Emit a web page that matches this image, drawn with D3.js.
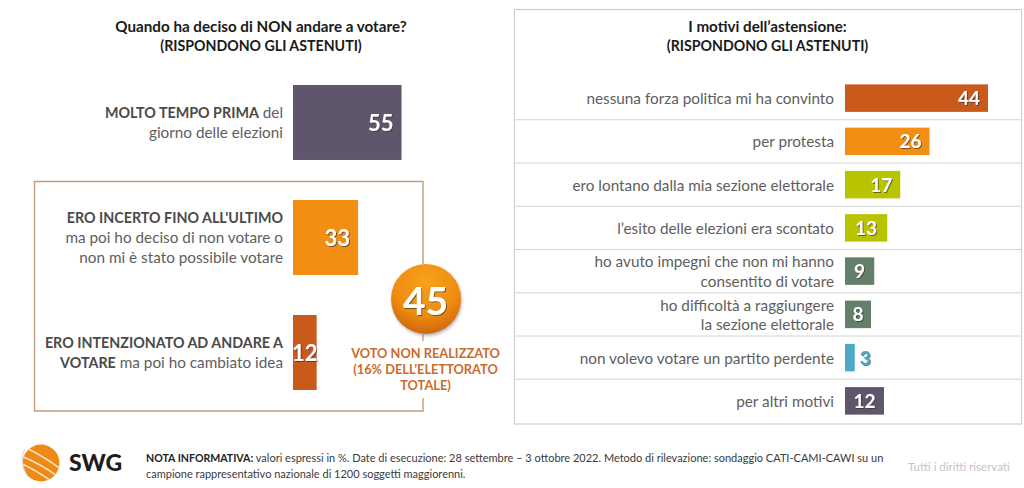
<!DOCTYPE html>
<html><head><meta charset="utf-8">
<script src="https://cdnjs.cloudflare.com/ajax/libs/d3/7.8.5/d3.min.js"></script>
<style>html,body{margin:0;padding:0;background:#fff}svg{display:block}text{font-family:Lato,sans-serif}</style>
</head><body><svg id="c" width="1024" height="488"></svg>
<script>
const whenKeys = ["molto","incerto","intenzionato"];
const whenValues = [55,33,12];
const whenColors = ["#5f566b","#f28f12","#c95a1b"];
const whenLabels = [
  [[["MOLTO TEMPO PRIMA",1],[" del",0]],[["giorno delle elezioni",0]]],
  [[["ERO INCERTO FINO ALL'ULTIMO",1]],[["ma poi ho deciso di non votare o",0]],[["non mi è stato possibile votare",0]]],
  [[["ERO INTENZIONATO AD ANDARE A",1]],[["VOTARE",1],[" ma poi ho cambiato idea",0]]]
];
const reasonLabels = [
  ["nessuna forza politica mi ha convinto"],["per protesta"],["ero lontano dalla mia sezione elettorale"],
  ["l’esito delle elezioni era scontato"],["ho avuto impegni che non mi hanno","consentito di votare"],
  ["ho difficoltà a raggiungere","la sezione elettorale"],["non volevo votare un partito perdente"],["per altri motivi"]
];
const reasonValues = [44,26,17,13,9,8,3,12];
const reasonColors = ["#c95a1b","#f28f12","#b9c400","#b9c400","#64806a","#64806a","#4ba9c8","#5f566b"];
const totalValue = 45;
const totalLabel = ["VOTO NON REALIZZATO","(16% DELL’ELETTORATO","TOTALE)"];
const noteLines = [
  [["NOTA INFORMATIVA:",1],[" valori espressi in %. Date di esecuzione: 28 settembre – 3 ottobre 2022. Metodo di rilevazione: sondaggio CATI-CAMI-CAWI su un",0]],
  [["campione rappresentativo nazionale di 1200 soggetti maggiorenni.",0]]
];

const svg = d3.select("#c");
const defs = svg.append("defs");
const sh = defs.append("filter").attr("id","ts").attr("x","-30%").attr("y","-30%").attr("width","170%").attr("height","170%");
sh.append("feDropShadow").attr("dx",1).attr("dy",1).attr("stdDeviation",.7).attr("flood-color","#333").attr("flood-opacity",.65);
const bs = defs.append("filter").attr("id","bs").attr("x","-30%").attr("y","-30%").attr("width","160%").attr("height","160%");
bs.append("feDropShadow").attr("dx",1).attr("dy",2).attr("stdDeviation",1.6).attr("flood-color","#888").attr("flood-opacity",.6);
const rg = defs.append("radialGradient").attr("id","ball").attr("cx","50%").attr("cy","25%").attr("r","80%");
rg.append("stop").attr("offset","0%").attr("stop-color","#f7a11d");
rg.append("stop").attr("offset","60%").attr("stop-color","#ee8c10");
rg.append("stop").attr("offset","100%").attr("stop-color","#c9610f");

// titles
function title(cx,lines){
  svg.append("text").attr("text-anchor","middle").attr("font-weight",700).attr("font-size",15.2).attr("fill","#1a1a1a")
    .selectAll("tspan").data(lines).join("tspan").attr("x",cx).attr("y",(d,i)=>32+i*18.7).text(d=>d);
}
title(261,["Quando ha deciso di NON andare a votare?"]);
svg.append("text").attr("x",261).attr("y",50.7).attr("text-anchor","middle").attr("font-weight",700).attr("font-size",14.2).attr("fill","#1a1a1a").text("(RISPONDONO GLI ASTENUTI)");
title(767.5,["I motivi dell’astensione:"]);
svg.append("text").attr("x",767.5).attr("y",50.7).attr("text-anchor","middle").attr("font-weight",700).attr("font-size",14.2).attr("fill","#1a1a1a").text("(RISPONDONO GLI ASTENUTI)");

// left chart
const xL = d3.scaleLinear().domain([0,55]).range([293,401.5]);
const yL = d3.scaleBand().domain(whenKeys).range([65,410]).paddingInner(.348).paddingOuter(.174);
svg.append("path").attr("fill","none").attr("stroke","#c39d7c").attr("stroke-width",1.4)
  .attr("d","M423 264V181.5H34.5V411H423V398");
svg.append("path").attr("fill","none").attr("stroke","#c39d7c").attr("stroke-width",1.4).attr("d","M423 334V341");
const gL = svg.append("g").selectAll("g").data(whenKeys).join("g");
gL.append("rect").attr("x",xL(0)).attr("y",d=>yL(d)).attr("height",yL.bandwidth())
  .attr("width",(d,i)=>xL(whenValues[i])-xL(0)).attr("fill",(d,i)=>whenColors[i]);
gL.append("text")
  .attr("x",(d,i)=>whenValues[i]<20?(xL(0)+xL(whenValues[i]))/2:xL(whenValues[i])-8)
  .attr("y",d=>yL(d)+yL.bandwidth()/2+8)
  .attr("text-anchor",(d,i)=>whenValues[i]<20?"middle":"end").attr("font-weight",700).attr("font-size",22).attr("fill","#fff").attr("filter","url(#ts)")
  .text((d,i)=>whenValues[i]);
gL.each(function(d,i){
  const lines = whenLabels[i], cy = yL(d)+yL.bandwidth()/2, lh = 20;
  const t = d3.select(this).append("text").attr("text-anchor","end").attr("fill","#5e5e5e");
  lines.forEach((l,j)=>{
    l.forEach((s,k)=>{
      const ts = t.append("tspan").attr("font-size",s[1]?14.3:15.3).attr("font-weight",s[1]?700:400).attr("fill",s[1]?"#4a4a4a":"#5e5e5e").text(s[0]).attr("xml:space","preserve");
      if(k===0) ts.attr("x",283).attr("y",cy+5+(j-(lines.length-1)/2)*lh);
    });
  });
});

// ball
svg.append("circle").attr("cx",426).attr("cy",299).attr("r",35).attr("fill","url(#ball)").attr("filter","url(#bs)");
svg.append("text").attr("x",425.5).attr("y",314.5).attr("text-anchor","middle").attr("font-weight",700).attr("font-size",39)
  .attr("fill","#fff").attr("filter","url(#ts)").text(totalValue);
svg.append("text").attr("text-anchor","middle").attr("font-weight",700).attr("font-size",12.8).attr("fill","#cc6a2a")
  .selectAll("tspan").data(totalLabel).join("tspan").attr("x",425.5).attr("y",(d,i)=>358+i*16).text(d=>d);

// right chart
svg.append("rect").attr("x",514.5).attr("y",9.5).attr("width",507).attr("height",414.5).attr("fill","none").attr("stroke","#cfcfcf").attr("stroke-width",1.2);
const xR = d3.scaleLinear().domain([0,44]).range([845,988]);
const keyR = reasonLabels.map(d=>d.join(" "));
const yR = d3.scaleBand().domain(keyR).range([76.5,422.5]).paddingInner(.364).paddingOuter(.182);
svg.append("g").selectAll("line").data(keyR.slice(1)).join("line")
  .attr("x1",515).attr("x2",1021).attr("y1",d=>yR(d)-yR.step()*.182).attr("y2",d=>yR(d)-yR.step()*.182)
  .attr("stroke","#d4d4d4").attr("stroke-width",1);
const gR = svg.append("g").selectAll("g").data(keyR).join("g");
gR.append("rect").attr("x",xR(0)).attr("y",d=>yR(d)).attr("height",yR.bandwidth())
  .attr("width",(d,i)=>xR(reasonValues[i])-xR(0)).attr("fill",(d,i)=>reasonColors[i]);
gR.append("text").attr("y",d=>yR(d)+yR.bandwidth()/2+7)
  .attr("x",(d,i)=>reasonValues[i]<5?xR(reasonValues[i])+5:(reasonValues[i]<14?(xR(0)+xR(reasonValues[i]))/2:xR(reasonValues[i])-8))
  .attr("text-anchor",(d,i)=>reasonValues[i]<5?"start":(reasonValues[i]<14?"middle":"end"))
  .attr("font-weight",700).attr("font-size",19)
  .attr("fill",(d,i)=>reasonValues[i]<5?reasonColors[i]:"#fff").attr("filter","url(#ts)")
  .text((d,i)=>reasonValues[i]);
gR.each(function(d,i){
  const lines = reasonLabels[i], cy = yR(d)+yR.bandwidth()/2, lh = 19.5;
  d3.select(this).append("text").attr("text-anchor","end").attr("font-size",15.3).attr("fill","#5e5e5e")
    .selectAll("tspan").data(lines).join("tspan").attr("x",834).attr("y",(l,j)=>cy+6+(j-(lines.length-1)/2)*lh).text(l=>l);
});

// footer logo
const clipL = defs.append("clipPath").attr("id","lg");
clipL.append("circle").attr("cx",41).attr("cy",463).attr("r",18.5);
svg.append("circle").attr("cx",41).attr("cy",463).attr("r",18.5).attr("fill","#ef8a17");
const logo = svg.append("g").attr("clip-path","url(#lg)").attr("fill","none").attr("stroke","#fbe3c8").attr("stroke-width",1.6);
["M18 455Q38 462 60 478","M20 463Q36 470 54 483","M24 447Q42 455 62 470"].forEach(p=>logo.append("path").attr("d",p));
svg.append("path").attr("d","M25 449Q18 462 28 477").attr("fill","none").attr("stroke","#ddd").attr("stroke-width",1.2);
svg.append("text").attr("x",69).attr("y",471).attr("font-weight",900).attr("font-size",23).attr("fill","#1d1d1b").text("SWG");

// note
const note = svg.append("text").attr("fill","#3a3a3a");
noteLines.forEach((l,j)=>l.forEach((s,k)=>{
  const ts = note.append("tspan").attr("font-size",s[1]?10.6:11).attr("font-weight",s[1]?700:400).attr("fill",s[1]?"#222":"#3a3a3a").text(s[0]);
  if(k===0) ts.attr("x",146).attr("y",462+j*15.5);
}));
svg.append("text").attr("x",908).attr("y",471).attr("font-size",11.5).attr("fill","#c4c4c4").text("Tutti i diritti riservati");
</script></body></html>
